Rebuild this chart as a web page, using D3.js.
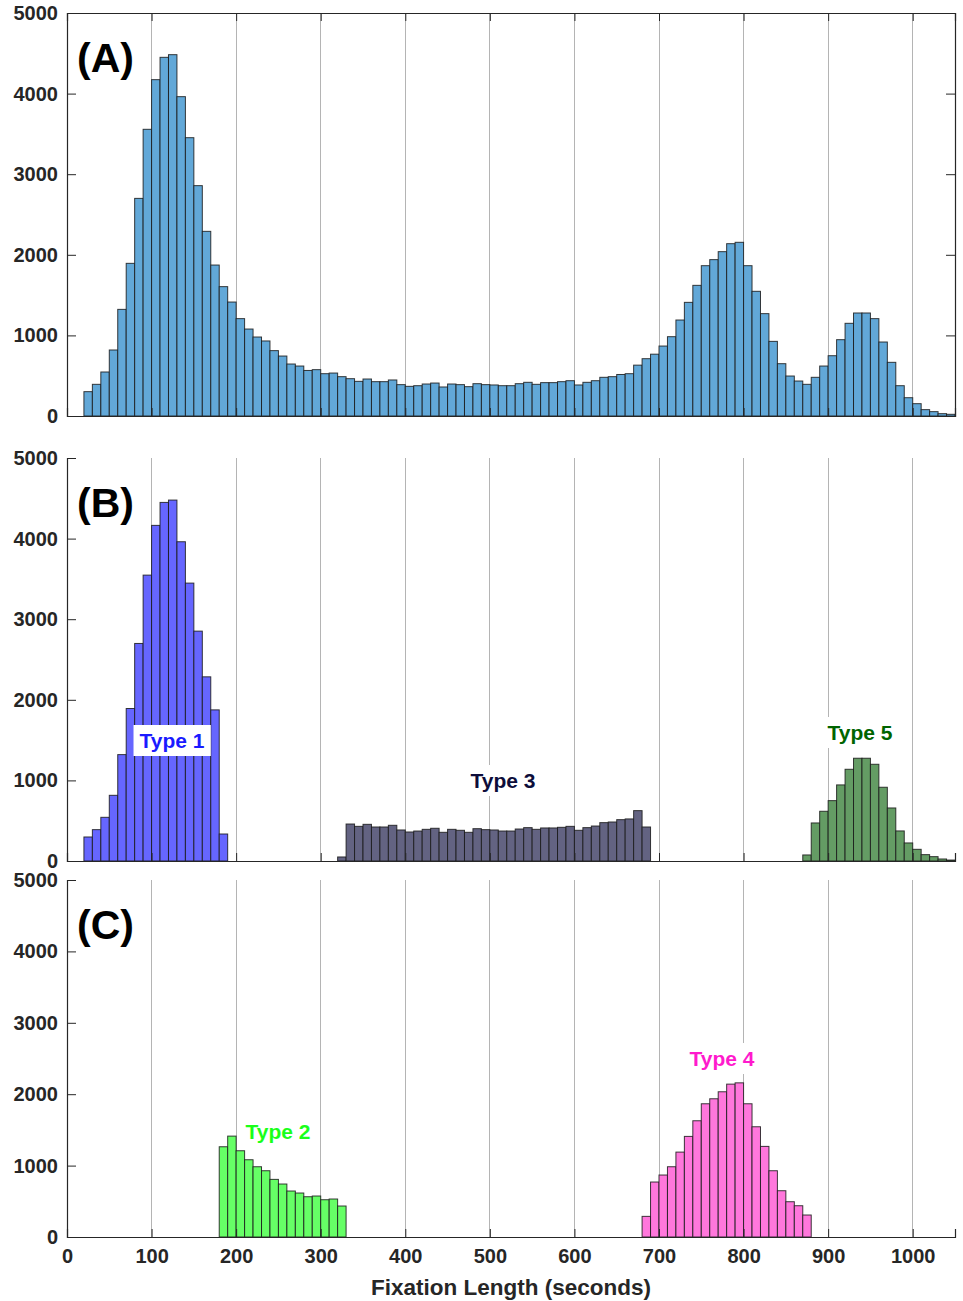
<!DOCTYPE html>
<html>
<head>
<meta charset="utf-8">
<script src="https://cdn.jsdelivr.net/npm/d3@7"></script>
<style>
  html, body { margin: 0; padding: 0; background: #fff; }
  svg { display: block; font-family: "Liberation Sans", Arial, sans-serif; }
</style>
</head>
<body>
<svg id="chart" width="963" height="1301"></svg>
<script>
// ---------- data ----------
const binWidth = 10;
const xTicks = [0, 100, 200, 300, 400, 500, 600, 700, 800, 900, 1000];
const yTicks = [0, 1000, 2000, 3000, 4000, 5000];

// Panel A: all fixations, bins starting at 20
const allStart = 20;
const allCounts = [302, 393, 546, 819, 1323, 1894, 2700, 3557, 4173, 4450,
  4483, 3962, 3453, 2858, 2291, 1873, 1605, 1414, 1208, 1079,
  980, 931, 811, 744, 645, 620, 565, 575, 525, 533,
  488, 463, 430, 459, 426, 426, 447, 389, 368, 376,
  397, 409, 360, 397, 389, 364, 401, 389, 385, 376,
  376, 401, 418, 393, 414, 414, 426, 438, 385, 418,
  438, 480, 488, 515, 525, 631, 711, 767, 868, 984,
  1191, 1410, 1621, 1865, 1940, 2039, 2138, 2155, 1865, 1547,
  1270, 926, 649, 496, 434, 393, 480, 620, 748, 947,
  1150, 1278, 1278, 1208, 918, 666, 376, 227, 153, 79,
  54, 29, 21];

const type1Start = 20;
const type1Counts = [298, 389, 542, 815, 1320, 1892, 2699, 3547, 4164, 4449, 4478, 3961, 3448, 2852, 2285, 1875, 335];
const type2Start = 180;
const type2Counts = [1264, 1413, 1208, 1082, 984, 928, 807, 742, 644, 616, 564, 574, 522, 532, 434];
const type3Start = 320;
const type3Counts = [50, 459, 430, 455, 422, 422, 443, 385, 360, 372, 393, 406, 356, 393, 381, 356, 401, 389, 385,
  372, 372, 397, 414, 393, 410, 410, 418, 430, 381, 414, 434, 476, 484, 513, 522, 625, 422];
const type4Start = 680;
const type4Counts = [289, 770, 868, 984, 1189, 1409, 1628, 1866, 1936, 2034, 2141, 2159, 1866, 1544, 1269, 928, 648, 494, 438, 308];
const type5Start = 870;
const type5Counts = [75, 472, 617, 749, 944, 1138, 1275, 1275, 1200, 915, 658, 373, 224, 145, 79, 54, 25, 12];

const panelLabels = ["(A)", "(B)", "(C)"];
const xLabel = "Fixation Length (seconds)";

// ---------- layout ----------
const svg = d3.select("#chart");
const x = d3.scaleLinear().domain([0, 1050]).range([67, 955]);
const axisColor = "#262626";
const tickFont = 20;

const panels = [
  { top: 13, bottom: 416, box: true, label: panelLabels[0], xLabels: false },
  { top: 458, bottom: 861, box: false, label: panelLabels[1], xLabels: false },
  { top: 880, bottom: 1237, box: false, label: panelLabels[2], xLabels: true }
];
panels.forEach(p => { p.y = d3.scaleLinear().domain([0, 5000]).range([p.bottom, p.top]); });

function toBins(start, counts) {
  return counts.map((c, i) => ({ x0: start + i * binWidth, x1: start + (i + 1) * binWidth, v: c }));
}

function drawGrid(p) {
  svg.append("g").selectAll("line").data(xTicks.filter(t => t > 0)).join("line")
    .attr("x1", d => x(d)).attr("x2", d => x(d))
    .attr("y1", p.top).attr("y2", p.bottom)
    .attr("stroke", "#b4b4b4").attr("stroke-width", 1).attr("shape-rendering", "crispEdges");
}

function drawBars(p, bins, fill) {
  svg.append("g").selectAll("rect").data(bins).join("rect")
    .attr("x", d => x(d.x0)).attr("width", d => x(d.x1) - x(d.x0))
    .attr("y", d => p.y(d.v)).attr("height", d => p.y(0) - p.y(d.v))
    .attr("fill", fill).attr("stroke", "#1a1a1a").attr("stroke-opacity", 0.85).attr("stroke-width", 1);
}

function styleText(sel) {
  sel.attr("fill", axisColor).attr("font-size", tickFont).attr("font-weight", "bold")
    .attr("font-family", "Liberation Sans, Arial, sans-serif");
}

function drawAxes(p) {
  const g = svg.append("g");
  // left axis
  const yAxis = d3.axisLeft(p.y).tickValues(yTicks).tickSize(-9).tickPadding(9).tickFormat(d3.format("d"));
  const gy = g.append("g").attr("transform", `translate(${x(0)},0)`).call(yAxis);
  gy.select(".domain").attr("stroke", axisColor);
  gy.selectAll(".tick line").attr("stroke", axisColor);
  styleText(gy.selectAll("text"));
  // bottom axis
  const xAxis = d3.axisBottom(x).tickValues(xTicks).tickSize(-8).tickPadding(12).tickFormat(p.xLabels ? d3.format("d") : "");
  const gx = g.append("g").attr("transform", `translate(0,${p.bottom})`).call(xAxis);
  gx.select(".domain").attr("stroke", axisColor);
  gx.selectAll(".tick line").attr("stroke", axisColor);
  styleText(gx.selectAll("text"));
  if (p.box) {
    const gt = g.append("g").attr("transform", `translate(0,${p.top})`)
      .call(d3.axisTop(x).tickValues(xTicks).tickSize(-8).tickFormat(""));
    gt.select(".domain").attr("stroke", axisColor);
    gt.selectAll(".tick line").attr("stroke", axisColor);
    const gr = g.append("g").attr("transform", `translate(${x(1050)},0)`)
      .call(d3.axisRight(p.y).tickValues(yTicks).tickSize(-9).tickFormat(""));
    gr.select(".domain").attr("stroke", axisColor);
    gr.selectAll(".tick line").attr("stroke", axisColor);
  }
  svg.selectAll(".domain").attr("stroke-width", 1.2);
  // panel label
  svg.append("text").attr("x", 77).attr("y", p.top + 59)
    .attr("font-size", 41).attr("font-weight", "bold").attr("fill", "#000").text(p.label);
}

function typeLabel(text, cx, baseline, color) {
  const g = svg.append("g");
  const t = g.append("text").attr("x", cx).attr("y", baseline).attr("text-anchor", "middle")
    .attr("font-size", 21).attr("font-weight", "bold").attr("fill", color).text(text);
  const bb = t.node().getBBox();
  g.insert("rect", "text").attr("x", bb.x - 6).attr("y", bb.y - 4)
    .attr("width", bb.width + 12).attr("height", bb.height + 8).attr("fill", "#fff");
}

// ---------- Panel A ----------
drawGrid(panels[0]);
drawBars(panels[0], toBins(allStart, allCounts), "#62a8d8");
drawAxes(panels[0]);

// ---------- Panel B ----------
drawGrid(panels[1]);
drawBars(panels[1], toBins(type1Start, type1Counts), "#6666ff");
drawBars(panels[1], toBins(type3Start, type3Counts), "#636382");
drawBars(panels[1], toBins(type5Start, type5Counts), "#649c64");
drawAxes(panels[1]);
typeLabel("Type 1", 172, 748, "#1a1aff");
typeLabel("Type 3", 503, 788, "#0d0d3a");
typeLabel("Type 5", 860, 740, "#006400");

// ---------- Panel C ----------
drawGrid(panels[2]);
drawBars(panels[2], toBins(type2Start, type2Counts), "#66ff66");
drawBars(panels[2], toBins(type4Start, type4Counts), "#ff77dc");
drawAxes(panels[2]);
typeLabel("Type 2", 278, 1139, "#1aff1a");
typeLabel("Type 4", 722, 1066, "#ff1acd");

// x label
svg.append("text").attr("x", 511).attr("y", 1295).attr("text-anchor", "middle")
  .attr("font-size", 22.5).attr("font-weight", "bold").attr("fill", axisColor).text(xLabel);
</script>
</body>
</html>
